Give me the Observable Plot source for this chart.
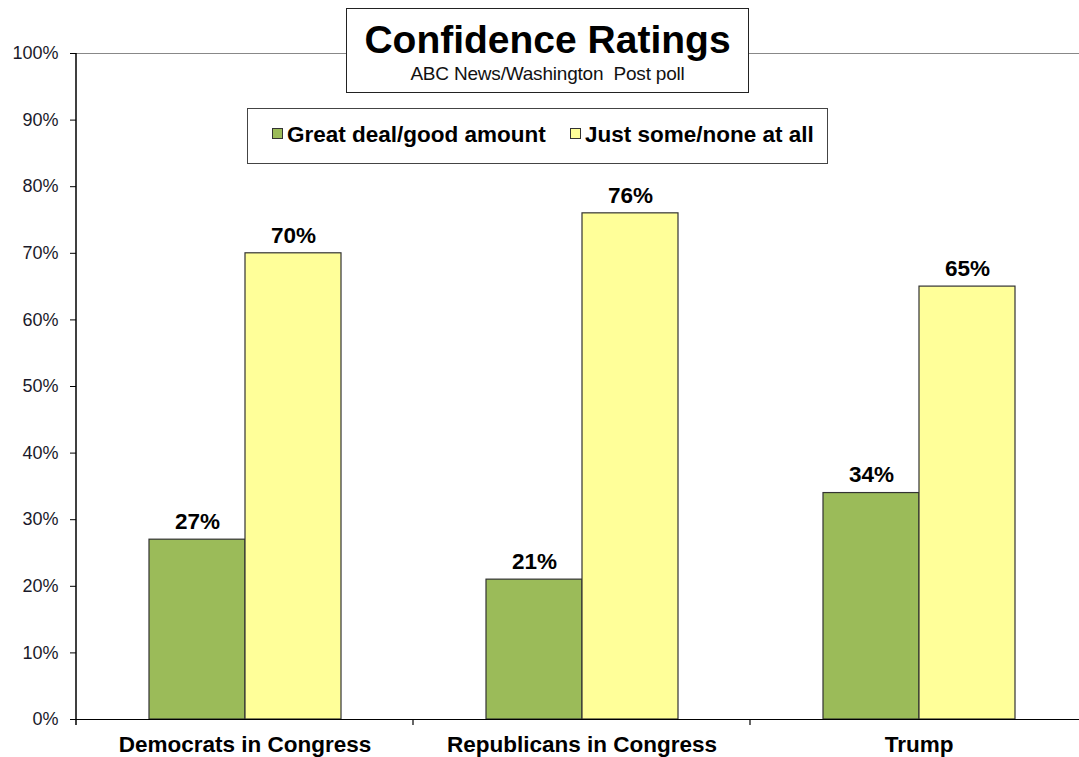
<!DOCTYPE html>
<html>
<head>
<meta charset="utf-8">
<script src="https://cdn.jsdelivr.net/npm/d3@7"></script>
<script src="https://cdn.jsdelivr.net/npm/@observablehq/plot@0.6"></script>
<style>
  html, body { margin: 0; padding: 0; background: #fff; overflow: hidden; }
  #wrap { position: relative; width: 1079px; height: 757px; overflow: hidden; font-family: "Liberation Sans", Arial, sans-serif; }
  #chart svg { max-width: none !important; }
  #title-box { position: absolute; left: 346px; top: 8px; width: 401px; height: 83px; border: 1.5px solid #222; background: #fff; text-align: center; box-sizing: content-box; }
  #title-box .t { font-size: 39px; font-weight: bold; color: #000; margin-top: 10px; line-height: 42px; }
  #title-box .s { font-size: 19px; color: #111; line-height: 20px; margin-top: 3px; letter-spacing: -0.2px; }
  #legend-box { position: absolute; left: 247px; top: 108px; width: 579px; height: 54px; border: 1.5px solid #444; background: #fff; }
  .li { position: absolute; top: 13px; font-size: 22.5px; font-weight: bold; color: #000; line-height: 26px; white-space: nowrap; }
  .sw { display: inline-block; width: 9px; height: 9px; border: 1px solid #333; margin-right: 4px; vertical-align: 3px; }
</style>
</head>
<body>
<div id="wrap">
  <div id="chart"></div>
  <div id="title-box"><div class="t">Confidence Ratings</div><div class="s">ABC News/Washington&nbsp; Post poll</div></div>
  <div id="legend-box">
    <div class="li" style="left:24px"><span class="sw" style="background:#9BBB59"></span>Great deal/good amount</div>
    <div class="li" style="left:322px"><span class="sw" style="background:#FFFF99"></span>Just some/none at all</div>
  </div>
</div>
<script>
const categories = ["Democrats in Congress", "Republicans in Congress", "Trump"];
const seriesNames = ["Great deal/good amount", "Just some/none at all"];
const greatDeal = [27, 21, 34];
const justSome = [70, 76, 65];
const seriesColors = ["#9BBB59", "#FFFF99"];
const yTicks = [0, 10, 20, 30, 40, 50, 60, 70, 80, 90, 100];

const data = [];
categories.forEach((c, i) => {
  data.push({category: c, series: seriesNames[0], value: greatDeal[i]});
  data.push({category: c, series: seriesNames[1], value: justSome[i]});
});

const chart = Plot.plot({
  width: 1088,
  height: 757,
  marginLeft: 75,
  marginRight: 0,
  marginTop: 53,
  marginBottom: 38,
  style: {fontFamily: "'Liberation Sans', Arial, sans-serif", background: "#fff", overflow: "visible", maxWidth: "none"},
  fx: {domain: categories, padding: 0, axis: null},
  x: {domain: seriesNames, paddingInner: 0, paddingOuter: 0.75, axis: null},
  y: {domain: [0, 100], axis: null},
  color: {domain: seriesNames, range: seriesColors},
  marks: [
    Plot.barY(data, {fx: "category", x: "series", y: "value", fill: "series", stroke: "#333", strokeWidth: 1.2}),
    Plot.text(data, {fx: "category", x: "series", y: "value", text: d => d.value + "%", dy: -18, fontSize: 22.5, fontWeight: "bold", fill: "#000"}),
    Plot.ruleY([100], {stroke: "#888", strokeWidth: 1.2}),
    Plot.ruleY([0], {stroke: "#000", strokeWidth: 1.2}),
    Plot.axisY({ticks: yTicks, tickFormat: d => d + "%", tickSize: 6, tickPadding: 12, fontSize: 18, color: "#1a1a2a", anchor: "left", stroke: "#000", label: null}),
    Plot.axisFx({domain: categories, tickSize: 0, tickPadding: 17, fontSize: 22.5, fontWeight: "bold", color: "#000", label: null, anchor: "bottom"})
  ]
});
chart.style.maxWidth = "none";
document.getElementById("chart").appendChild(chart);

// category boundary ticks drawn from fx scale
const fx = chart.scale("fx");
const svg = d3.select(chart);
const y0 = chart.scale("y").apply(0);
const bounds = categories.map(c => fx.apply(c)).concat([fx.apply(categories[categories.length - 1]) + fx.bandwidth]);
svg.append("g").selectAll("line").data(bounds.slice(1)).join("line")
  .attr("x1", d => d).attr("x2", d => d).attr("y1", y0).attr("y2", y0 + 6)
  .attr("stroke", "#000").attr("stroke-width", 1.2);
svg.append("line").attr("x1", bounds[0]).attr("x2", bounds[0]).attr("y1", chart.scale("y").apply(100)).attr("y2", y0 + 6).attr("stroke", "#000").attr("stroke-width", 1.5);
</script>
</body>
</html>
